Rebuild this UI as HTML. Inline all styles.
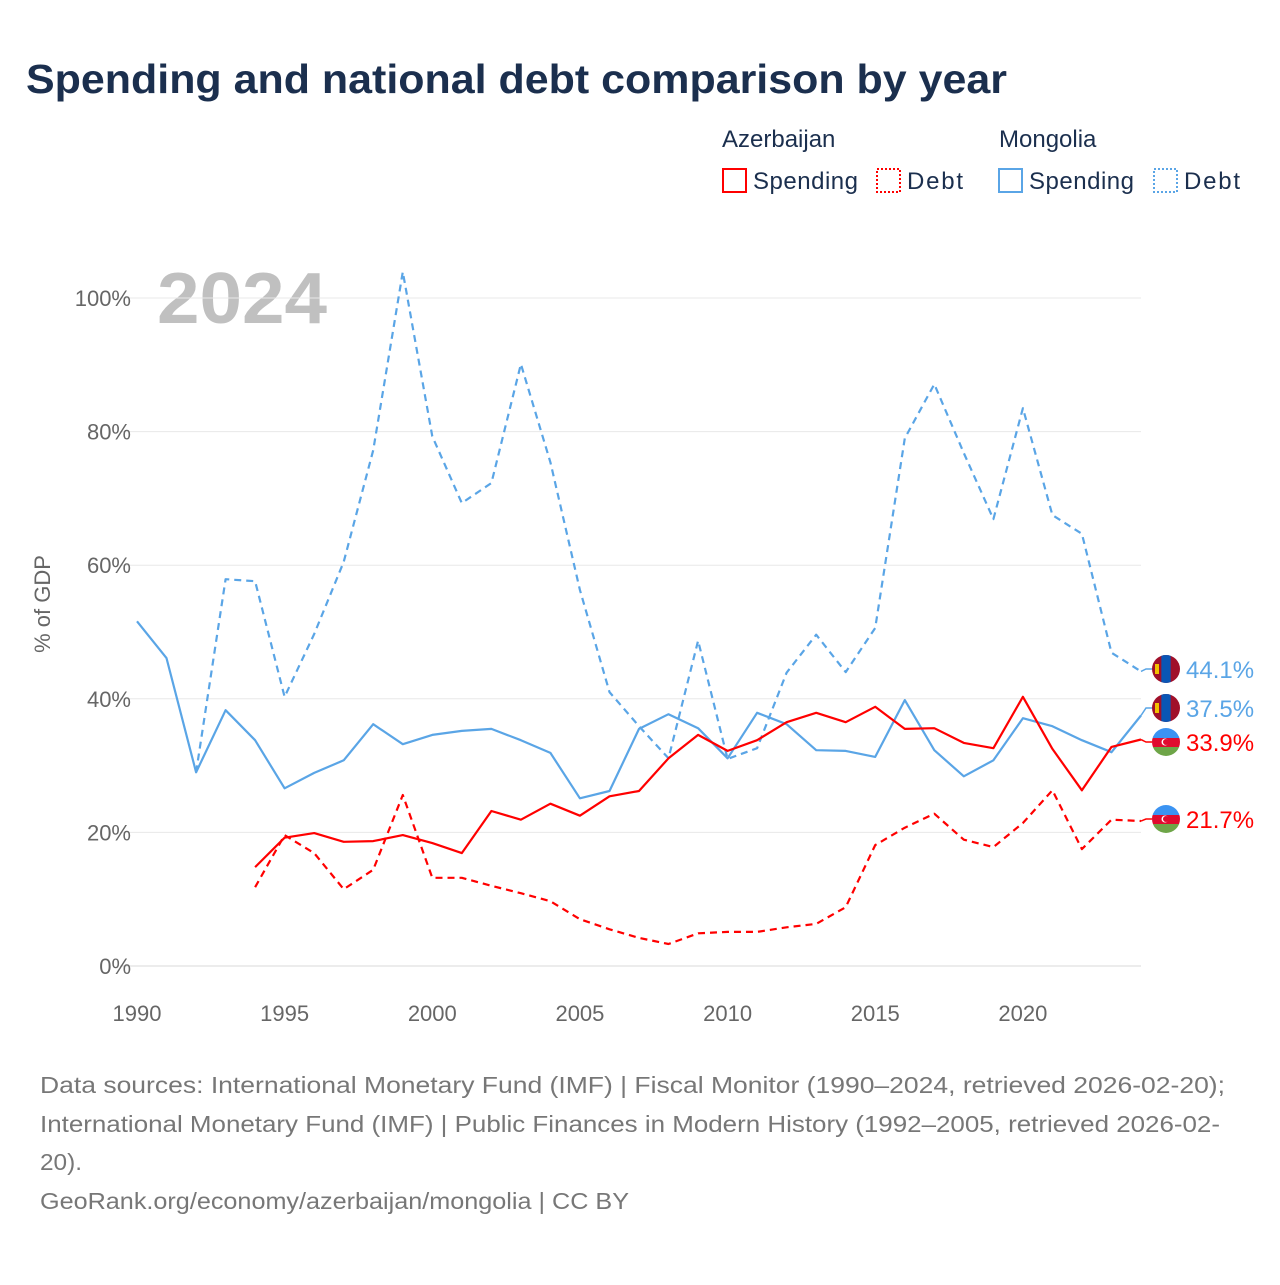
<!DOCTYPE html>
<html><head><meta charset="utf-8"><style>
body{margin:0;background:#fff;width:1280px;height:1280px;overflow:hidden;font-family:"Liberation Sans",sans-serif;}
svg text{font-family:"Liberation Sans",sans-serif;}
</style></head><body>
<svg id="chart" width="1280" height="1280" viewBox="0 0 1280 1280">
<text x="26" y="93" font-size="41" font-weight="bold" fill="#1b2f4e" textLength="981" lengthAdjust="spacingAndGlyphs">Spending and national debt comparison by year</text>
<g>
<text x="722" y="147" font-size="24" fill="#1b2f4e">Azerbaijan</text>
<text x="999" y="147" font-size="24" fill="#1b2f4e">Mongolia</text>
<g><rect x="723" y="169" width="23" height="23" fill="none" stroke="#ff0000" stroke-width="2"/><text x="753" y="189" font-size="24" fill="#1b2f4e" textLength="105">Spending</text></g>
<g><rect x="877" y="169" width="23" height="23" fill="none" stroke="#ff0000" stroke-width="2" stroke-dasharray="2,2"/><text x="907" y="189" font-size="24" fill="#1b2f4e" textLength="56">Debt</text></g>
<g><rect x="999" y="169" width="23" height="23" fill="none" stroke="#5aa5e6" stroke-width="2"/><text x="1029" y="189" font-size="24" fill="#1b2f4e" textLength="105">Spending</text></g>
<g><rect x="1154" y="169" width="23" height="23" fill="none" stroke="#5aa5e6" stroke-width="2" stroke-dasharray="2,2"/><text x="1184" y="189" font-size="24" fill="#1b2f4e" textLength="56">Debt</text></g>
</g>
<text x="157" y="323" font-size="72" font-weight="bold" fill="#c0c0c0" textLength="170" lengthAdjust="spacingAndGlyphs">2024</text>
<text transform="translate(50,604) rotate(-90)" text-anchor="middle" font-size="22" fill="#666">% of GDP</text>
<g id="grid"></g><g id="lines"></g><g id="ends"></g>
<g font-size="23" fill="#777">
<text x="40" y="1093" textLength="1185" lengthAdjust="spacingAndGlyphs">Data sources: International Monetary Fund (IMF) | Fiscal Monitor (1990–2024, retrieved 2026-02-20);</text>
<text x="40" y="1132" textLength="1180" lengthAdjust="spacingAndGlyphs">International Monetary Fund (IMF) | Public Finances in Modern History (1992–2005, retrieved 2026-02-</text>
<text x="40" y="1170" textLength="42" lengthAdjust="spacingAndGlyphs">20).</text>
<text x="40" y="1209" textLength="589" lengthAdjust="spacingAndGlyphs">GeoRank.org/economy/azerbaijan/mongolia | CC BY</text>
</g>
</svg>
<script>
const yTicks=[0,20,40,60,80,100];
const xTicks=[1990,1995,2000,2005,2010,2015,2020];
const mnYears=[1990,1991,1992,1993,1994,1995,1996,1997,1998,1999,2000,2001,2002,2003,2004,2005,2006,2007,2008,2009,2010,2011,2012,2013,2014,2015,2016,2017,2018,2019,2020,2021,2022,2023,2024];
const mnSpending=[51.6,46.1,29,38.3,33.8,26.6,28.9,30.8,36.2,33.2,34.6,35.2,35.5,33.8,31.9,25.1,26.2,35.5,37.7,35.6,31.1,37.9,36.2,32.3,32.2,31.3,39.8,32.3,28.4,30.8,37.1,35.9,33.8,32,37.5];
const mnDebtYears=mnYears.slice(2);
const mnDebt=[29,57.9,57.6,40.3,49.7,60.5,77.2,103.9,79.3,69.3,72.3,90.1,75.4,56.3,41,35.9,31.1,48.7,31,32.6,43.9,49.6,44,50.6,79,87.1,76.8,66.9,83.5,67.5,64.7,46.9,44.1];
const azYears=mnYears.slice(4);
const azSpending=[14.8,19.2,19.9,18.6,18.7,19.6,18.4,16.9,23.2,21.9,24.3,22.5,25.4,26.2,31.1,34.6,32.2,33.8,36.5,37.9,36.5,38.8,35.5,35.6,33.4,32.6,40.3,32.5,26.3,32.8,33.9];
const azDebt=[11.8,19.6,16.9,11.5,14.4,25.6,13.2,13.2,12,10.9,9.7,7,5.5,4.2,3.3,4.9,5.1,5.1,5.8,6.3,8.8,18.1,20.7,22.8,18.9,17.8,21.4,26.3,17.5,21.9,21.7];
const NS='http://www.w3.org/2000/svg';
const X=y=>137+(y-1990)*(1141-137)/34;
const Y=v=>966-v*6.68;
function mk(t,a,p){const e=document.createElementNS(NS,t);for(const k in a)e.setAttribute(k,a[k]);p.appendChild(e);return e;}
const grid=document.getElementById('grid');
yTicks.forEach(v=>{
 const l=mk('line',{x1:120,x2:1141,y1:Y(v),y2:Y(v),stroke:v===0?'#d8d8d8':'#e8e8e8','stroke-width':1},grid);
 
 
 const t=mk('text',{x:131,y:Y(v)+8,'text-anchor':'end','font-size':22,fill:'#666'},grid);t.textContent=v+'%';
 
 
});
xTicks.forEach(v=>{
 const t=mk('text',{x:X(v),y:1021,'text-anchor':'middle','font-size':22,fill:'#666'},grid);t.textContent=v;
 
 
});
const lines=document.getElementById('lines');
function series(ys,vs,col,dash,name){
 const p=mk('path',{d:ys.map((y,i)=>(i?'L':'M')+X(y).toFixed(1)+','+Y(vs[i]).toFixed(1)).join(''),fill:'none',stroke:col,'stroke-width':2.2,'stroke-dasharray':dash||'none','stroke-linejoin':'round'},lines);
 
 
}
series(mnDebtYears,mnDebt,'#5aa5e6','7,5','line-mongolia-debt');
series(mnYears,mnSpending,'#5aa5e6','','line-mongolia-spending');
series(azYears,azDebt,'#ff0000','7,5','line-azerbaijan-debt');
series(azYears,azSpending,'#ff0000','','line-azerbaijan-spending');
const ends=document.getElementById('ends');
function endLabel(v,ly,col,flag,name){
 const g=mk('g',{},ends);
 
 
 mk('path',{d:`M${X(2024)},${Y(v)} L1146,${ly} L1152,${ly}`,fill:'none',stroke:col,'stroke-width':1.5},g);
 const cx=1166,r=14;
 const cp='cp'+name;const d=mk('clipPath',{id:cp},g);mk('circle',{cx,cy:ly,r},d);
 const f=mk('g',{'clip-path':`url(#${cp})`},g);
 if(flag==='mn'){mk('rect',{x:cx-r,y:ly-r,width:2*r,height:2*r,fill:'#a0102a'},f);mk('rect',{x:cx-r/3,y:ly-r,width:2*r/3,height:2*r,fill:'#0a56b5'},f);mk('rect',{x:cx-11,y:ly-5,width:4,height:10,fill:'#f2c200'},f);}
 else{mk('rect',{x:cx-r,y:ly-r,width:2*r,height:10,fill:'#3b93f2'},f);mk('rect',{x:cx-r,y:ly-r+10,width:2*r,height:9,fill:'#e00b2f'},f);mk('rect',{x:cx-r,y:ly-r+19,width:2*r,height:10,fill:'#6ea548'},f);mk('circle',{cx:cx-1,cy:ly,r:3.5,fill:'#fff'},f);mk('circle',{cx:cx,cy:ly,r:3,fill:'#e00b2f'},f);}
 const t=mk('text',{x:1186,y:ly+9,'font-size':24,fill:col},g);t.textContent=v.toFixed(1)+'%';
}
endLabel(mnDebt[mnDebt.length-1],669,'#5aa5e6','mn','end-label-mongolia-debt');
endLabel(mnSpending[mnSpending.length-1],708,'#5aa5e6','mn','end-label-mongolia-spending');
endLabel(azSpending[azSpending.length-1],742,'#ff0000','az','end-label-azerbaijan-spending');
endLabel(azDebt[azDebt.length-1],819,'#ff0000','az','end-label-azerbaijan-debt');
</script>
</body></html>
